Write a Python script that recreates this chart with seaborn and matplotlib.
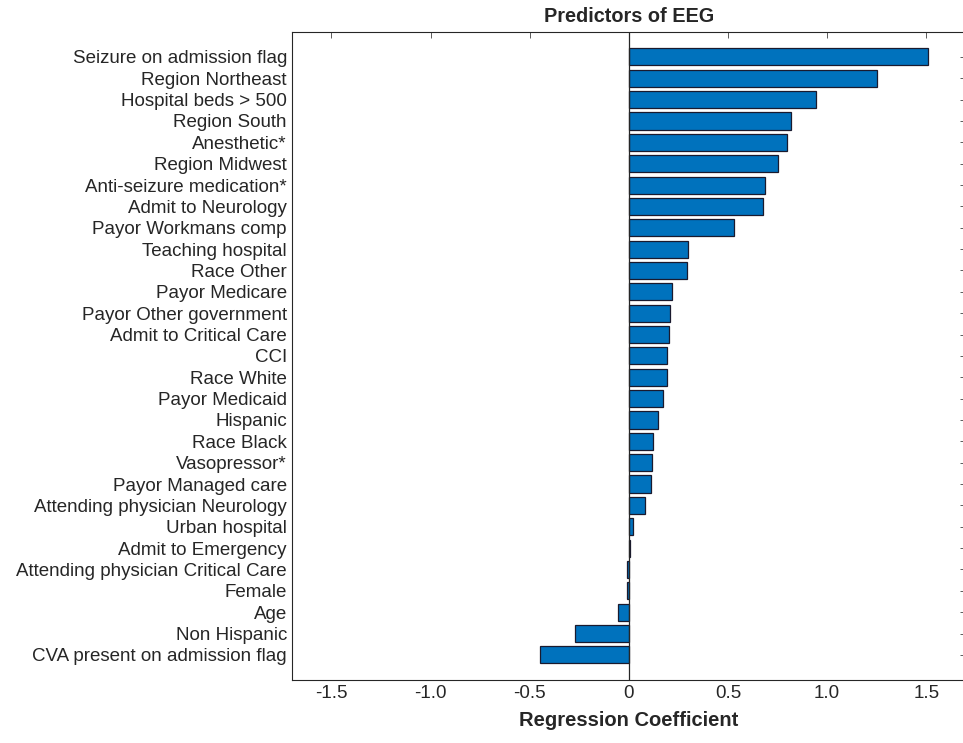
import numpy as np
import pandas as pd
import matplotlib
matplotlib.use("Agg")
import matplotlib.pyplot as plt
import seaborn as sns

predictors = [
    "Seizure on admission flag", "Region Northeast", "Hospital beds > 500",
    "Region South", "Anesthetic*", "Region Midwest", "Anti-seizure medication*",
    "Admit to Neurology", "Payor Workmans comp", "Teaching hospital",
    "Race Other", "Payor Medicare", "Payor Other government",
    "Admit to Critical Care", "CCI", "Race White", "Payor Medicaid",
    "Hispanic", "Race Black", "Vasopressor*", "Payor Managed care",
    "Attending physician Neurology", "Urban hospital", "Admit to Emergency",
    "Attending physician Critical Care", "Female", "Age", "Non Hispanic",
    "CVA present on admission flag",
]
coefs = [
    1.51, 1.25, 0.945, 0.82, 0.80, 0.75, 0.685, 0.675, 0.528, 0.30,
    0.295, 0.216, 0.209, 0.204, 0.192, 0.191, 0.171, 0.146, 0.123, 0.119,
    0.111, 0.079, 0.022, 0.007, -0.008, -0.007, -0.055, -0.273, -0.446,
]
xticks = [-1.5, -1.0, -0.5, 0, 0.5, 1.0, 1.5]
xtick_labels = ["-1.5", "-1.0", "-0.5", "0", "0.5", "1.0", "1.5"]

df = pd.DataFrame({"Predictor": predictors, "Coefficient": coefs})

sns.set_style("white")
plt.rcParams["font.family"] = ["Liberation Sans", "DejaVu Sans"]

fig = plt.figure(figsize=(9.63, 7.43), dpi=100)
ax = fig.add_axes([0.303, 0.085, 0.700, 0.872])

sns.barplot(data=df, x="Coefficient", y="Predictor", orient="h",
            color="#0072BD", saturation=1, width=0.8,
            edgecolor="#1a1a2e", linewidth=0.9, ax=ax)
ax.axvline(0, color="#262626", lw=0.9, zorder=3)

n = len(predictors)
ax.set_ylim(n - 1 + 1.17, -1.17)
ax.set_xlim(-1.7, 1.7)
ax.set_xticks(xticks)
ax.set_xticklabels(xtick_labels)

ax.set_title("Predictors of EEG", fontsize=14.3, fontweight="bold", pad=7)
ax.set_xlabel("Regression Coefficient", fontsize=14.5, fontweight="bold", labelpad=7)
ax.set_ylabel("")

ax.tick_params(axis="both", direction="in", length=4, width=0.6,
               colors="#404040", labelcolor="#262626", labelsize=13.5,
               top=True, right=True)
for s in ax.spines.values():
    s.set_color("#262626")
    s.set_linewidth(0.8)
    s.set_visible(True)

fig.savefig("out.png", dpi=100)
